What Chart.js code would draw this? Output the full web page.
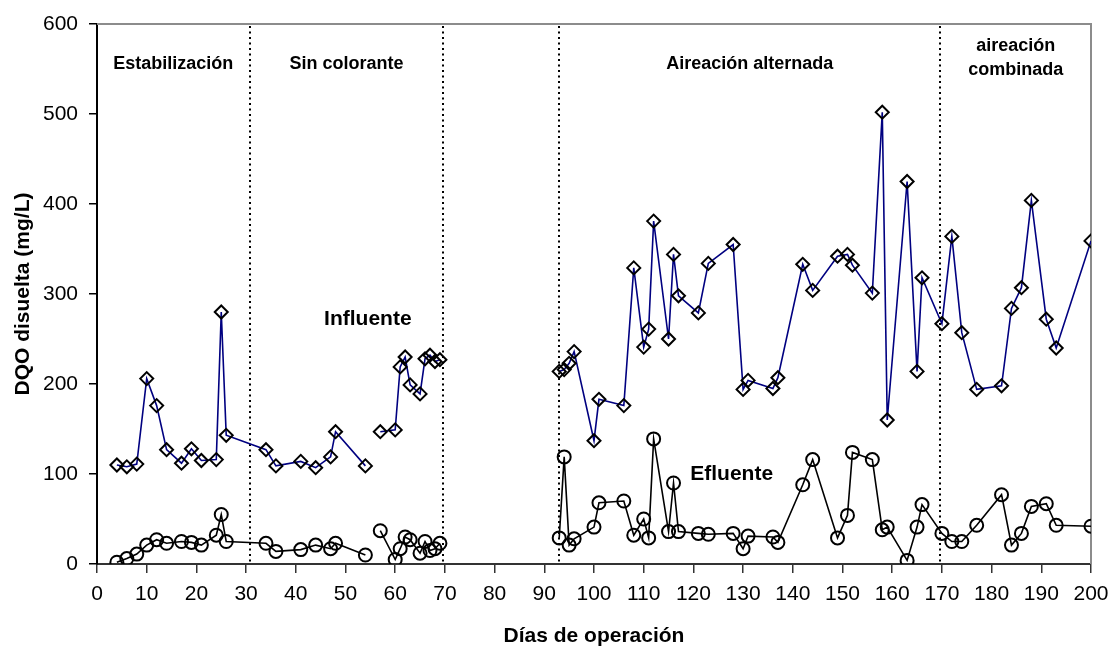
<!DOCTYPE html>
<html>
<head>
<meta charset="utf-8">
<script src="https://cdn.jsdelivr.net/npm/chart.js@4.4.0/dist/chart.umd.min.js"></script>
<style>
  html, body { margin: 0; padding: 0; background: #fff; }
  #wrap { width: 1111px; height: 652px; }
</style>
</head>
<body>
<div id="wrap"><canvas id="dqoChart" width="1111" height="652"></canvas></div>
<script>
// Influente (DQO disuelta, mg/L)
const inflDays = [4, 6, 8, 10, 12, 14, 17, 19, 21, 24, 25, 26, 34, 36, 41, 44, 47, 48, 54,
  57, 60, 61, 62, 63, 65, 66, 67, 68, 69,
  93, 94, 95, 96, 100, 101, 106, 108, 110, 111, 112, 115, 116, 117, 121, 123, 128, 130, 131, 136, 137,
  142, 144, 149, 151, 152, 156, 158, 159, 163, 165, 166, 170, 172, 174, 177, 182, 184, 186, 188, 191, 193, 200];
const inflValues = [110, 108, 111, 206, 176, 127, 112, 128, 115, 116, 280, 143, 127, 109, 114, 107, 119, 147, 109,
  147, 149, 219, 230, 199, 189, 228, 232, 225, 227,
  214, 216, 223, 236, 137, 183, 176, 329, 241, 261, 381, 250, 344, 298, 279, 334, 355, 194, 204, 195, 207,
  333, 304, 342, 344, 332, 301, 502, 160, 425, 214, 318, 267, 364, 257, 194, 198, 284, 307, 404, 272, 240, 359];

// Efluente
const eflDays = [4, 6, 8, 10, 12, 14, 17, 19, 21, 24, 25, 26, 34, 36, 41, 44, 47, 48, 54,
  57, 60, 61, 62, 63, 65, 66, 67, 68, 69,
  93, 94, 95, 96, 100, 101, 106, 108, 110, 111, 112, 115, 116, 117, 121, 123, 128, 130, 131, 136, 137,
  142, 144, 149, 151, 152, 156, 158, 159, 163, 165, 166, 170, 172, 174, 177, 182, 184, 186, 188, 191, 193, 200];
const eflValues = [2, 6, 11, 21, 27, 23, 25, 24, 21, 32, 55, 25, 23, 14, 16, 21, 17, 23, 10,
  37, 5, 17, 30, 27, 12, 25, 15, 17, 23,
  29, 119, 21, 28, 41, 68, 70, 32, 50, 29, 139, 36, 90, 36, 34, 33, 34, 17, 31, 30, 24,
  88, 116, 29, 54, 124, 116, 38, 41, 4, 41, 66, 34, 25, 25, 43, 77, 21, 34, 64, 67, 43, 42];

// days where the sampling stopped (line is broken there)
const gapDays = [55.5, 81];

// phase limits and names
const phaseLimits = [0, 30.7, 69.7, 93, 169.7, 200];
const phaseNames = [['Estabilización'], ['Sin colorante'], [], ['Aireación alternada'], ['aireación', 'combinada']];

const xTicks = { min: 0, max: 200, step: 10 };
const yTicks = { min: 0, max: 600, step: 100 };

const seriesLabels = [
  { text: 'Influente', x: 54.5, y: 272 },
  { text: 'Efluente', x: 127.7, y: 100 }
];

function toPoints(days, values) {
  const pts = days.map((d, i) => ({ x: d, y: values[i] }));
  gapDays.forEach((g) => pts.push({ x: g, y: null }));
  pts.sort((a, b) => a.x - b.x);
  return pts;
}

const FONT = '"Liberation Sans", Arial, sans-serif';

const phasePlugin = {
  id: 'phases',
  beforeDatasetsDraw(chart) {
    const { ctx, chartArea: area, scales } = chart;
    const xs = scales.x;
    ctx.save();
    // frame top and right
    ctx.strokeStyle = '#8c8c8c';
    ctx.lineWidth = 2;
    ctx.beginPath();
    ctx.moveTo(area.left, area.top);
    ctx.lineTo(area.right, area.top);
    ctx.lineTo(area.right, area.bottom);
    ctx.stroke();

    // dotted phase separators
    ctx.strokeStyle = '#000';
    ctx.lineWidth = 2;
    ctx.setLineDash([2, 3.5]);
    phaseLimits.slice(1, -1).forEach((d) => {
      const px = Math.round(xs.getPixelForValue(d));
      ctx.beginPath();
      ctx.moveTo(px, area.top + 2);
      ctx.lineTo(px, area.bottom);
      ctx.stroke();
    });
    ctx.setLineDash([]);

    // phase names
    ctx.fillStyle = '#000';
    ctx.font = 'bold 18px ' + FONT;
    ctx.textAlign = 'center';
    ctx.textBaseline = 'middle';
    phaseNames.forEach((lines, i) => {
      const cx = (xs.getPixelForValue(phaseLimits[i]) + xs.getPixelForValue(phaseLimits[i + 1])) / 2;
      if (lines.length === 1) {
        ctx.fillText(lines[0], cx, area.top + 40);
      } else {
        lines.forEach((t, j) => ctx.fillText(t, cx, area.top + 22 + j * 24));
      }
    });

    // series names
    ctx.font = 'bold 21px ' + FONT;
    seriesLabels.forEach((l) => {
      ctx.fillText(l.text, xs.getPixelForValue(l.x), scales.y.getPixelForValue(l.y));
    });
    ctx.restore();
  }
};

new Chart(document.getElementById('dqoChart').getContext('2d'), {
  type: 'line',
  data: {
    datasets: [
      {
        label: 'Influente',
        data: toPoints(inflDays, inflValues),
        borderColor: '#000080',
        borderWidth: 1.6,
        pointStyle: 'rectRot',
        pointRadius: 6.5,
        pointBorderColor: '#000',
        pointBackgroundColor: 'rgba(0,0,0,0)',
        pointBorderWidth: 2,
        spanGaps: false,
        tension: 0
      },
      {
        label: 'Efluente',
        data: toPoints(eflDays, eflValues),
        borderColor: '#000',
        borderWidth: 1.6,
        pointStyle: 'circle',
        pointRadius: 6.5,
        pointBorderColor: '#000',
        pointBackgroundColor: 'rgba(0,0,0,0)',
        pointBorderWidth: 2,
        spanGaps: false,
        tension: 0
      }
    ]
  },
  options: {
    responsive: false,
    animation: false,
    layout: { padding: { top: 24, right: 20, left: 0, bottom: 0 } },
    plugins: {
      legend: { display: false },
      tooltip: { enabled: false }
    },
    scales: {
      x: {
        type: 'linear',
        min: xTicks.min,
        max: xTicks.max,
        afterFit: (s) => { s.height = 88; s.paddingRight = 0; s.paddingLeft = 0; },
        ticks: {
          stepSize: xTicks.step,
          color: '#000',
          padding: 9,
          maxRotation: 0,
          font: { family: FONT, size: 21 }
        },
        grid: { drawOnChartArea: false, drawTicks: true, tickLength: 9, color: '#333', lineWidth: 1.5 },
        border: { color: '#333', width: 2 },
        title: {
          display: true,
          text: 'Días de operación',
          color: '#000',
          font: { family: FONT, size: 21, weight: 'bold' },
          padding: { top: 0, bottom: 3 }
        }
      },
      y: {
        min: yTicks.min,
        max: yTicks.max,
        afterFit: (s) => { s.width = 97; s.paddingTop = 0; s.paddingBottom = 0; },
        ticks: {
          stepSize: yTicks.step,
          color: '#000',
          padding: 11,
          font: { family: FONT, size: 21 }
        },
        grid: { drawOnChartArea: false, drawTicks: true, tickLength: 8, color: '#000', lineWidth: 1.5 },
        border: { color: '#000', width: 2 },
        title: {
          display: true,
          text: 'DQO disuelta (mg/L)',
          color: '#000',
          font: { family: FONT, size: 21, weight: 'bold' },
          padding: { top: 11, bottom: 0 }
        }
      }
    }
  },
  plugins: [phasePlugin]
});
</script>
</body>
</html>
